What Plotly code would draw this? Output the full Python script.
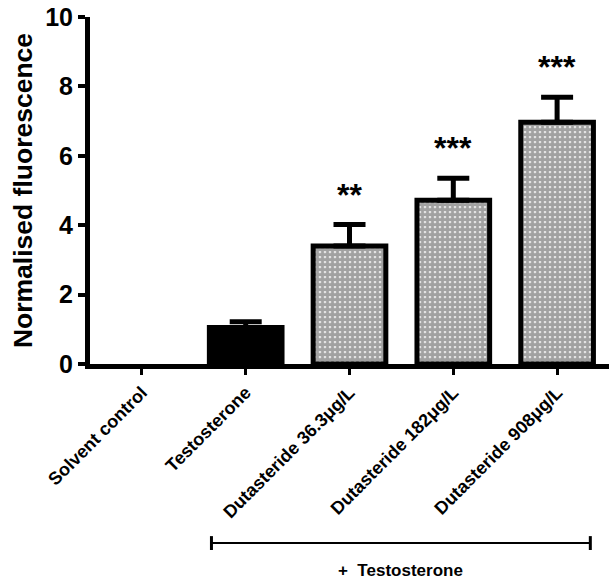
import plotly.graph_objects as go

# Data
categories = ["Solvent control", "Testosterone", "Dutasteride 36.3μg/L",
              "Dutasteride 182μg/L", "Dutasteride 908μg/L"]
means = [0.0, 1.05, 3.40, 4.72, 6.97]
sem = [None, 0.17, 0.62, 0.63, 0.72]
significance = ["", "", "**", "***", "***"]
y_ticks = [0, 2, 4, 6, 8, 10]

FONT = "Liberation Sans, Arial, sans-serif"

fill_colors = ["white", "black", "white", "white", "white"]
pattern_shapes = ["", "", ".", ".", "."]
outline_widths = [0, 5, 5, 5, 5]

fig = go.Figure()
fig.add_trace(go.Bar(
    x=categories,
    y=means,
    width=0.70,
    marker=dict(
        color=fill_colors,
        line=dict(color="black", width=outline_widths),
        pattern=dict(shape=pattern_shapes, fgcolor="black", bgcolor="white",
                     size=5, solidity=0.8, fillmode="overlay"),
    ),
    showlegend=False,
))

# upper-only SEM bars, only for groups that have one
err_idx = [i for i, e in enumerate(sem) if e is not None]
fig.add_trace(go.Scatter(
    x=[categories[i] for i in err_idx],
    y=[means[i] for i in err_idx],
    mode="none",
    error_y=dict(type="data", array=[sem[i] for i in err_idx],
                 arrayminus=[0] * len(err_idx), symmetric=False,
                 color="black", thickness=5, width=16),
    showlegend=False, hoverinfo="skip",
))

# significance stars above the error bars
for cat, m, e, s in zip(categories, means, sem, significance):
    if s:
        fig.add_annotation(x=cat, y=m + e, yref="y", text=s, showarrow=False,
                           yanchor="bottom", yshift=10,
                           font=dict(family=FONT, size=32, color="black", weight="bold"))

# "+ Testosterone" bracket under the treated groups
bx0, bx1 = 1 - 0.33, 4 + 0.32
by = -0.516
fig.add_shape(type="line", xref="x", yref="paper", x0=bx0, x1=bx1, y0=by, y1=by,
              line=dict(color="black", width=2))
for bx in (bx0, bx1):
    fig.add_shape(type="line", xref="x", yref="paper", x0=bx, x1=bx,
                  y0=by - 0.02, y1=by + 0.02, line=dict(color="black", width=3))
fig.add_annotation(x=(bx0 + bx1) / 2, xref="x", y=-0.594, yref="paper",
                   text="+  Testosterone", showarrow=False, yanchor="middle",
                   font=dict(family=FONT, size=17, color="black", weight="bold"))

fig.update_layout(
    width=609, height=581,
    margin=dict(l=90, r=0, t=17, b=217),
    plot_bgcolor="white", paper_bgcolor="white",
    font=dict(family=FONT, color="black"),
)
fig.update_xaxes(
    range=[-0.5, 4.5],
    showline=True, linecolor="black", linewidth=5,
    ticks="outside", ticklen=6, tickwidth=3, tickcolor="black",
    tickangle=-45,
    tickfont=dict(family=FONT, size=18, color="black", weight="bold"),
    showgrid=False, zeroline=False,
)
fig.update_yaxes(
    range=[0, 10], tickvals=y_ticks,
    showline=True, linecolor="black", linewidth=5,
    ticks="outside", ticklen=7, tickwidth=4, tickcolor="black",
    tickfont=dict(family=FONT, size=25, color="black", weight="bold"),
    title=dict(text="Normalised fluorescence", standoff=6,
               font=dict(family=FONT, size=26.5, color="black", weight="bold")),
    showgrid=False, zeroline=False,
)

fig.write_html("out.html")
